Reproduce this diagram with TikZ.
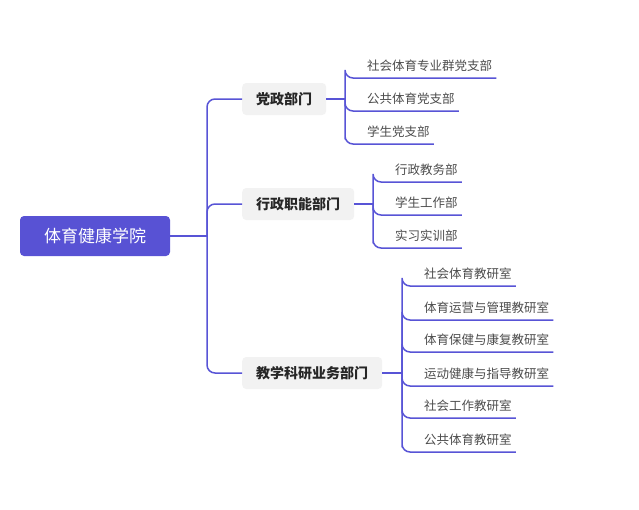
\documentclass[tikz,border=0pt]{standalone}
\usepackage{fontspec}
\setmainfont{Noto Sans CJK SC}
\usetikzlibrary{positioning}
\definecolor{linkblue}{RGB}{88,84,214}
\definecolor{rootblue}{RGB}{88,82,212}
\definecolor{deptgray}{RGB}{242,242,242}

\begin{document}
\begin{tikzpicture}[x=1pt, y=-1pt,
    rootbox/.style={fill=rootblue, rounded corners=4pt, text=white, font=\fontsize{17}{20}\selectfont, minimum width=150pt, minimum height=40pt, inner sep=0pt},
    deptbox/.style={fill=deptgray, rounded corners=4pt, text=black!85, font=\fontsize{14}{16}\selectfont\bfseries, minimum height=32pt, inner xsep=14pt, inner ysep=0pt, anchor=west},
    unitlabel/.style={anchor=south west, inner xsep=4pt, inner ysep=6pt, text=black!70, font=\fontsize{12.5}{15}\selectfont},
    link/.style={linkblue, line width=1.5pt, rounded corners=8pt}]
\useasboundingbox (0,0) rectangle (639,509);

% root
\node[rootbox] (root) at (95,236) {体育健康学院};
\coordinate (rootfork) at (207,236);

% departments
\node[deptbox] (dang) at (242,99) {党政部门};
\node[deptbox] (xing) at (242,204) {行政职能部门};
\node[deptbox] (jiao) at (242,373) {教学科研业务部门};

\draw[link] (root.east) -- (rootfork);
\draw[link] (rootfork) |- (dang.west);
\draw[link] (rootfork) |- (xing.west);
\draw[link] (rootfork) |- (jiao.west);

% 党政部门
\coordinate (dangfork) at (345,99);
\node[unitlabel] (d1) at (363,78) {社会体育专业群党支部};
\node[unitlabel] (d2) at (363,111) {公共体育党支部};
\node[unitlabel] (d3) at (363,144) {学生党支部};
\draw[link] (dang.east) -- (dangfork);
\draw[link] (dangfork) |- ([xshift=-18pt]d1.south west) -- (d1.south east);
\draw[link] (dangfork) |- ([xshift=-18pt]d2.south west) -- (d2.south east);
\draw[link] (dangfork) |- ([xshift=-18pt]d3.south west) -- (d3.south east);

% 行政职能部门
\coordinate (xingfork) at (373,204);
\node[unitlabel] (x1) at (391,182) {行政教务部};
\node[unitlabel] (x2) at (391,215) {学生工作部};
\node[unitlabel] (x3) at (391,248) {实习实训部};
\draw[link] (xing.east) -- (xingfork);
\draw[link] (xingfork) |- ([xshift=-18pt]x1.south west) -- (x1.south east);
\draw[link] (xingfork) |- ([xshift=-18pt]x2.south west) -- (x2.south east);
\draw[link] (xingfork) |- ([xshift=-18pt]x3.south west) -- (x3.south east);

% 教学科研业务部门
\coordinate (jiaofork) at (402,373);
\node[unitlabel] (j1) at (420,286) {社会体育教研室};
\node[unitlabel] (j2) at (420,320) {体育运营与管理教研室};
\node[unitlabel] (j3) at (420,352) {体育保健与康复教研室};
\node[unitlabel] (j4) at (420,386) {运动健康与指导教研室};
\node[unitlabel] (j5) at (420,418) {社会工作教研室};
\node[unitlabel] (j6) at (420,452) {公共体育教研室};
\draw[link] (jiao.east) -- (jiaofork);
\draw[link] (jiaofork) |- ([xshift=-18pt]j1.south west) -- (j1.south east);
\draw[link] (jiaofork) |- ([xshift=-18pt]j2.south west) -- (j2.south east);
\draw[link] (jiaofork) |- ([xshift=-18pt]j3.south west) -- (j3.south east);
\draw[link] (jiaofork) |- ([xshift=-18pt]j4.south west) -- (j4.south east);
\draw[link] (jiaofork) |- ([xshift=-18pt]j5.south west) -- (j5.south east);
\draw[link] (jiaofork) |- ([xshift=-18pt]j6.south west) -- (j6.south east);

\end{tikzpicture}
\end{document}
